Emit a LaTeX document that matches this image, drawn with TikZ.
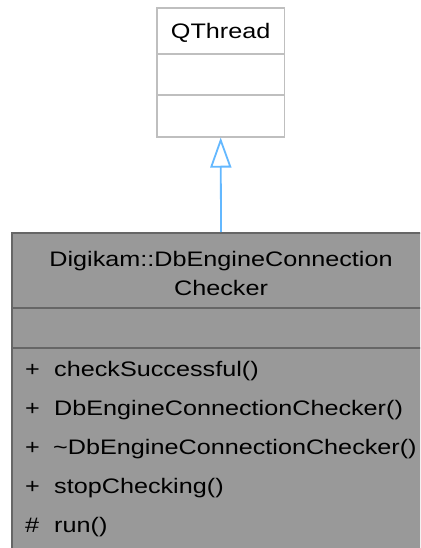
\documentclass[tikz,border=0pt]{standalone}
\usepackage{fontspec}
\setmainfont{Liberation Sans}[FakeStretch=1.2]
\usetikzlibrary{arrows.meta}
\definecolor{lightborder}{HTML}{BFBFBF}
\definecolor{darkborder}{HTML}{666666}
\definecolor{darkfill}{HTML}{999999}
\definecolor{inherit}{HTML}{63B8FF}
\tikzset{
  lightbox/.style={draw=lightborder, fill=white, line width=1.7pt, inner sep=0pt, rectangle},
  darkbox/.style={draw=darkborder, fill=darkfill, line width=2pt, inner sep=0pt, rectangle},
  txt/.style={inner sep=0pt, font=\fontsize{21}{25}\selectfont},
  member/.style={txt, anchor=base west},
  vis/.style={txt, anchor=base west},
  inh/.style={draw=inherit, line width=1.8pt, -{Triangle[open, length=30pt, width=21pt, fill=white]}}
}
\begin{document}
\begin{tikzpicture}[x=1pt, y=-1pt]
\clip (0,0) rectangle (420,548);
\fill[white] (0,0) rectangle (420,548);
% QThread box
\node[lightbox, minimum width=127.3pt, minimum height=129pt] (qt) at (220.7,72.2) {};
\draw[lightborder, line width=1.7pt] (157,54.3) -- (284.3,54.3);
\draw[lightborder, line width=1.7pt] (157,94.7) -- (284.3,94.7);
\node[txt, anchor=base] (qtname) at (220.7,38.3) {QThread};
% Digikam box
\node[darkbox, minimum width=418pt, minimum height=330pt] (dk) at (221,398) {};
\draw[darkborder, line width=2pt] (12,308) -- (430,308);
\draw[darkborder, line width=2pt] (12,348) -- (430,348);
\node[txt, anchor=base] (t1) at (221,266.7) {Digikam::DbEngineConnection};
\node[txt, anchor=base] (t2) at (221,295) {Checker};
% members
\node[vis] (v1) at (25,376) {+};
\node[member] (m1) at (54,376) {checkSuccessful()};
\node[vis] (v2) at (25,415) {+};
\node[member] (m2) at (54,415) {DbEngineConnectionChecker()};
\node[vis] (v3) at (25,454) {+};
\node[member] (m3) at (53,454) {\textasciitilde DbEngineConnectionChecker()};
\node[vis] (v4) at (25,493) {+};
\node[member] (m4) at (54,493) {stopChecking()};
\node[vis] (v5) at (25,532) {\#};
\node[member] (m5) at (54,532) {run()};
% inheritance
\draw[inh] (dk.north) -- (qt.south);
\end{tikzpicture}
\end{document}
